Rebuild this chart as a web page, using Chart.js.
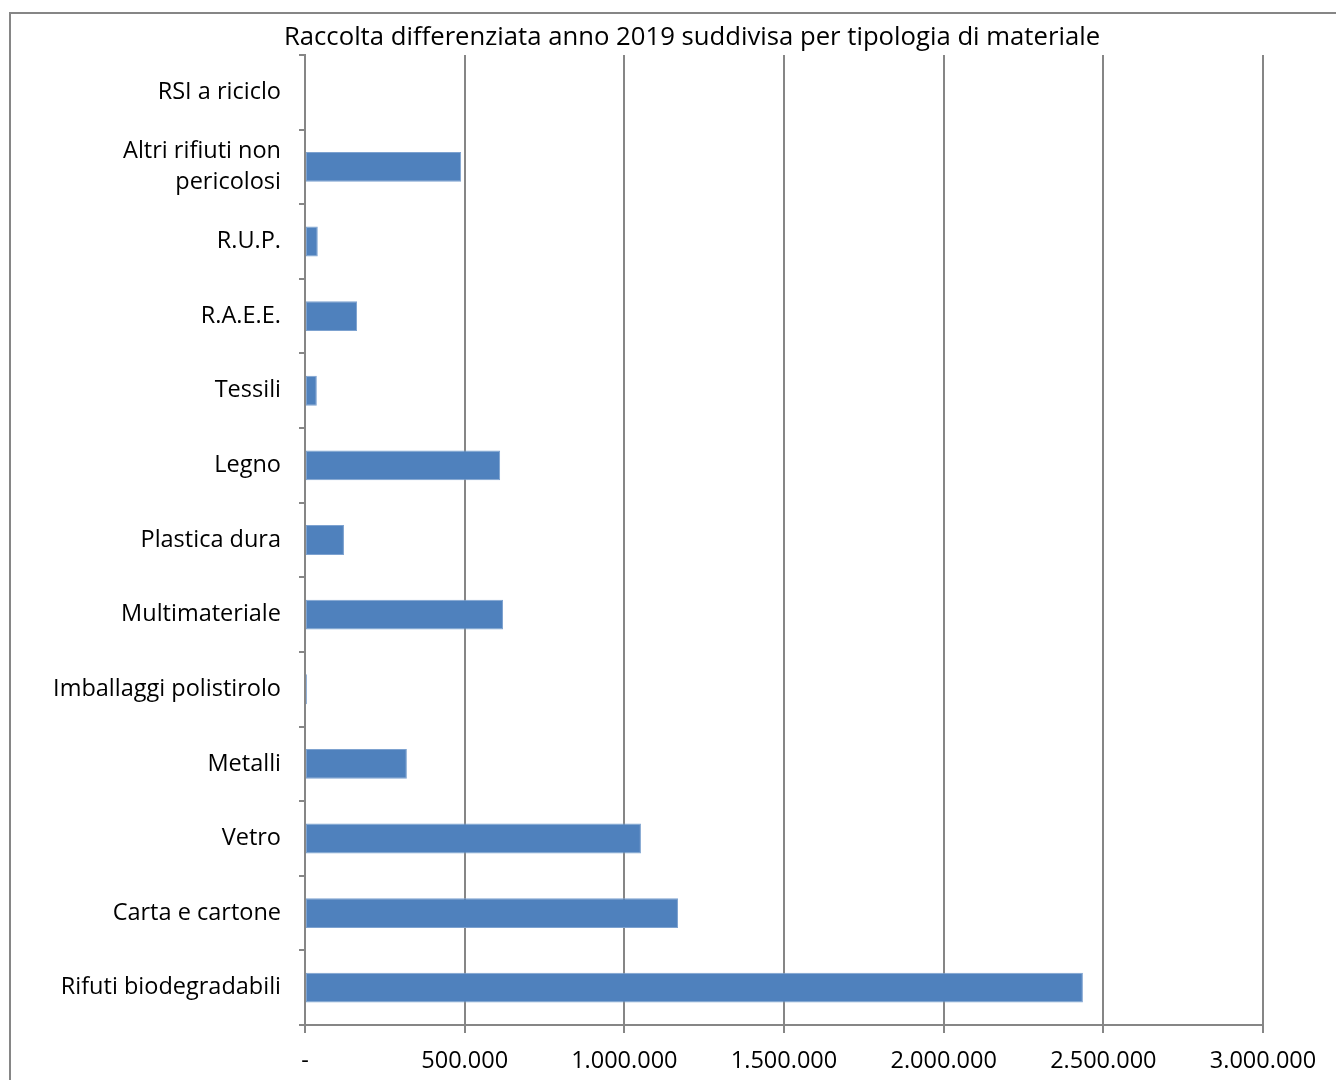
<!DOCTYPE html>
<html>
<head>
<meta charset="utf-8">
<title>Raccolta differenziata 2019</title>
<script src="https://cdn.jsdelivr.net/npm/chart.js@4.4.1/dist/chart.umd.min.js"></script>
<style>
    html, body { margin: 0; padding: 0; background: #fff; }
    #wrap { width: 1336px; height: 1080px; position: relative; }
</style>
</head>
<body>
<div id="wrap"><canvas id="rdChart" width="1336" height="1080"></canvas></div>
<script>
// Data
const chartTitle = 'Raccolta differenziata anno 2019 suddivisa per tipologia di materiale';
const categories = [
    'RSI a riciclo',
    ['Altri rifiuti non', 'pericolosi'],
    'R.U.P.',
    'R.A.E.E.',
    'Tessili',
    'Legno',
    'Plastica dura',
    'Multimateriale',
    'Imballaggi polistirolo',
    'Metalli',
    'Vetro',
    'Carta e cartone',
    'Rifuti biodegradabili'
];
const quantities = [0, 489000, 40000, 163000, 37000, 611000, 122000, 620000, 6000, 319000, 1052000, 1168000, 2436000];
const xTicks = [0, 500000, 1000000, 1500000, 2000000, 2500000, 3000000];

const FONT = '"Open Sans", sans-serif';
const GRAY = '#868686';

function fmt(v) {
    if (v === 0) return '-';
    return String(v).replace(/\B(?=(\d{3})+(?!\d))/g, '.');
}

// frame + title drawn like the original sheet chart
const frameTitle = {
    id: 'frameTitle',
    beforeDraw(chart) {
        const ctx = chart.ctx;
        ctx.save();
        ctx.fillStyle = '#fff';
        ctx.fillRect(0, 0, chart.width, chart.height);
        ctx.strokeStyle = GRAY;
        ctx.lineWidth = 2;
        ctx.strokeRect(10, 13, chart.width + 20, chart.height + 20);
        ctx.restore();
    },
    afterDraw(chart) {
        const ctx = chart.ctx;
        ctx.save();
        ctx.fillStyle = '#000';
        ctx.font = '25.7px ' + FONT;
        ctx.textAlign = 'center';
        ctx.textBaseline = 'middle';
        ctx.fillText(chartTitle, 692, 38);
        ctx.restore();
    }
};

new Chart(document.getElementById('rdChart'), {
    type: 'bar',
    data: {
        labels: categories,
        datasets: [{
            label: 'Quantità',
            data: quantities,
            backgroundColor: '#4f81bd',
            borderColor: '#7da2d0',
            borderWidth: 1,
            borderSkipped: false,
            categoryPercentage: 1,
            barPercentage: 0.4
        }]
    },
    options: {
        indexAxis: 'y',
        responsive: false,
        animation: false,
        layout: {
            padding: { left: 10, right: 73, top: 55, bottom: 0 }
        },
        plugins: {
            legend: { display: false },
            title: { display: false },
            tooltip: { enabled: false }
        },
        scales: {
            x: {
                min: 0,
                max: 3000000,
                afterBuildTicks(scale) {
                    scale.ticks = xTicks.map(v => ({ value: v }));
                },
                afterFit(scale) {
                    scale.height = 55;
                    scale.paddingLeft = 0;
                    scale.paddingRight = 0;
                },
                grid: {
                    color: GRAY,
                    lineWidth: 2,
                    tickLength: 8,
                    drawTicks: true
                },
                border: { color: GRAY, width: 2 },
                ticks: {
                    color: '#000',
                    font: { family: FONT, size: 23.5 },
                    padding: 14,
                    maxRotation: 0,
                    callback: (v) => fmt(v)
                }
            },
            y: {
                afterFit(scale) {
                    scale.width = 295;
                    scale.paddingTop = 0;
                    scale.paddingBottom = 0;
                },
                grid: {
                    drawOnChartArea: false,
                    color: GRAY,
                    lineWidth: 2,
                    tickLength: 6,
                    offset: true
                },
                border: { color: GRAY, width: 2 },
                ticks: {
                    color: '#000',
                    font: { family: FONT, size: 23.5, lineHeight: 1.35 },
                    padding: 18
                }
            }
        }
    },
    plugins: [frameTitle]
});
</script>
</body>
</html>
